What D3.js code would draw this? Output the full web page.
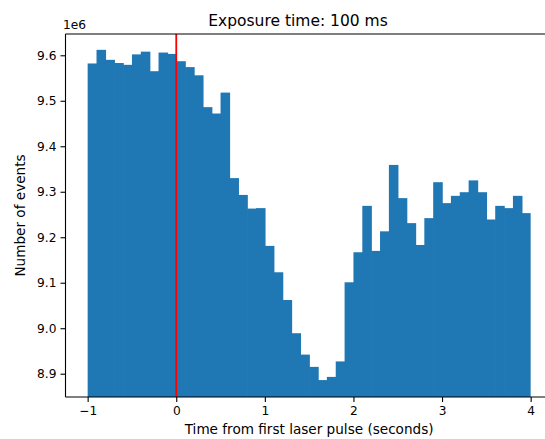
<!DOCTYPE html>
<html>
<head>
<meta charset="utf-8">
<script src="https://cdn.jsdelivr.net/npm/d3@7"></script>
<style>
  html, body { margin: 0; padding: 0; background: #fff; }
  svg { display: block; font-family: "DejaVu Sans", sans-serif; }
</style>
</head>
<body>
<svg id="chart" width="545" height="439"></svg>
<script>
// Histogram bin edges start (seconds), bin width 0.1
const binStarts = [-1.0,-0.9,-0.8,-0.7,-0.6,-0.5,-0.4,-0.3,-0.2,-0.1,
  0.0,0.1,0.2,0.3,0.4,0.5,0.6,0.7,0.8,0.9,
  1.0,1.1,1.2,1.3,1.4,1.5,1.6,1.7,1.8,1.9,
  2.0,2.1,2.2,2.3,2.4,2.5,2.6,2.7,2.8,2.9,
  3.0,3.1,3.2,3.3,3.4,3.5,3.6,3.7,3.8,3.9];
const binWidth = 0.1;
// Counts in units of 1e6
const counts = [9.582,9.612,9.590,9.583,9.579,9.602,9.608,9.565,9.606,9.603,
  9.587,9.574,9.556,9.486,9.472,9.518,9.330,9.293,9.263,9.264,
  9.181,9.123,9.062,8.989,8.942,8.915,8.886,8.893,8.927,9.101,
  9.167,9.269,9.170,9.213,9.359,9.286,9.231,9.183,9.242,9.321,
  9.275,9.291,9.299,9.325,9.299,9.239,9.269,9.264,9.291,9.253];
const xTicks = [-1, 0, 1, 2, 3, 4];
const yTicks = [8.9, 9.0, 9.1, 9.2, 9.3, 9.4, 9.5, 9.6];
const laserTime = 0;
const titleText = "Exposure time: 100 ms";
const xLabel = "Time from first laser pulse (seconds)";
const yLabel = "Number of events";
const offsetText = "1e6";

const svg = d3.select("#chart");
const mLeft = 65.5, mRight = 552.8, mTop = 34, mBottom = 397;
const x = d3.scaleLinear().domain([-1.25, 4.25]).range([mLeft, mRight]);
const y = d3.scaleLinear().domain([8.8488, 9.6468]).range([mBottom, mTop]);

const g = svg.append("g");
g.append("defs").append("clipPath").attr("id", "clip")
  .append("rect").attr("x", mLeft).attr("y", mTop).attr("width", mRight - mLeft).attr("height", mBottom - mTop);

const plot = g.append("g").attr("clip-path", "url(#clip)");
const lastIdx = counts.length - 1;
plot.selectAll("rect.bar").data(counts).enter().append("rect")
  .attr("class", "bar")
  .attr("x", (d, i) => x(binStarts[i]))
  .attr("width", (d, i) => x(binStarts[i] + binWidth) - x(binStarts[i]) + (i < lastIdx ? 0.7 : 0))
  .attr("y", d => y(d))
  .attr("height", d => mBottom + 5 - y(d))
  .attr("fill", "#1f77b4");

plot.append("line")
  .attr("x1", x(laserTime)).attr("x2", x(laserTime))
  .attr("y1", mTop).attr("y2", mBottom)
  .attr("stroke", "#ff0000").attr("stroke-width", 1.8);

// axes
const xAxis = d3.axisBottom(x).tickValues(xTicks).tickSize(5).tickPadding(4)
  .tickFormat(d => d < 0 ? "\u2212" + Math.abs(d) : String(d));
const xa = g.append("g").attr("transform", `translate(0,${mBottom})`).call(xAxis);
xa.select(".domain").remove();
xa.selectAll("line").attr("stroke", "#000").attr("stroke-width", 1.1);
xa.selectAll("text").attr("font-size", 12.2).attr("fill", "#000")
  .attr("font-family", "DejaVu Sans");

const yAxis = d3.axisLeft(y).tickValues(yTicks).tickSize(5).tickPadding(4)
  .tickFormat(d3.format(".1f"));
const ya = g.append("g").attr("transform", `translate(${mLeft},0)`).call(yAxis);
ya.select(".domain").remove();
ya.selectAll("line").attr("stroke", "#000").attr("stroke-width", 1.1);
ya.selectAll("text").attr("font-size", 12.2).attr("fill", "#000")
  .attr("font-family", "DejaVu Sans");

// spines
g.append("line").attr("x1", mLeft).attr("x2", mLeft).attr("y1", mTop).attr("y2", mBottom)
  .attr("stroke", "#000").attr("stroke-width", 1.1);
g.append("line").attr("x1", mLeft).attr("x2", mRight).attr("y1", mBottom).attr("y2", mBottom)
  .attr("stroke", "#000").attr("stroke-width", 1.1);
g.append("line").attr("x1", mLeft).attr("x2", mRight).attr("y1", mTop).attr("y2", mTop)
  .attr("stroke", "#000").attr("stroke-width", 1.1);
g.append("line").attr("x1", mRight).attr("x2", mRight).attr("y1", mTop).attr("y2", mBottom)
  .attr("stroke", "#000").attr("stroke-width", 1.1);

// texts
svg.append("text").attr("x", 298).attr("y", 25.5).attr("text-anchor", "middle")
  .attr("font-size", 15.5).attr("fill", "#000").text(titleText);
svg.append("text").attr("x", 63).attr("y", 29).attr("text-anchor", "start")
  .attr("font-size", 12.2).attr("fill", "#000").text(offsetText);
svg.append("text").attr("x", (mLeft + mRight) / 2).attr("y", 434).attr("text-anchor", "middle")
  .attr("font-size", 13.6).attr("fill", "#000").text(xLabel);
svg.append("text").attr("transform", `translate(25,${(mTop + mBottom) / 2}) rotate(-90)`)
  .attr("text-anchor", "middle").attr("font-size", 13.6).attr("fill", "#000").text(yLabel);
</script>
</body>
</html>
